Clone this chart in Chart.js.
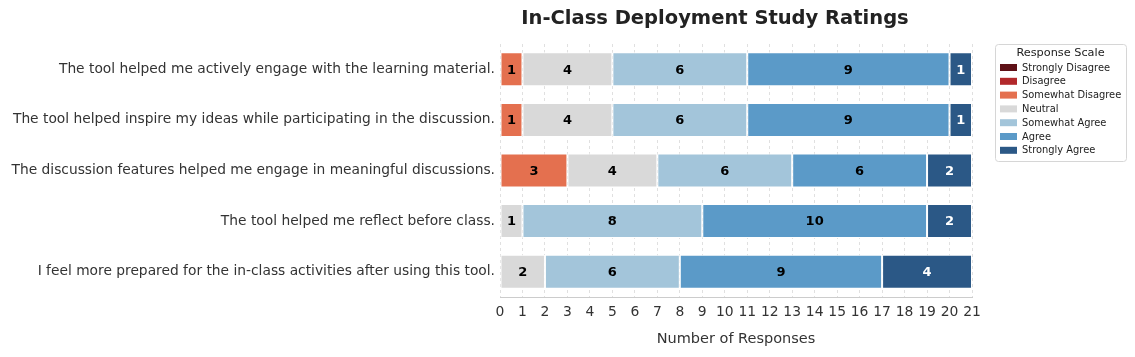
<!DOCTYPE html>
<html lang="en">
<head>
  <meta charset="UTF-8" />
  <title>In-Class Deployment Study Ratings</title>
  <script src="https://cdn.jsdelivr.net/npm/chart.js"></script>
  <style>
    body {
      margin: 0;
      background: #fff;
    }
    #wrap {
      width: 1135px;
      height: 357px;
    }
  </style>
</head>
<body>
  <div id="wrap">
    <canvas id="myChart" width="1135" height="357"></canvas>
  </div>

  <script>
    const categories = [
      'The tool helped me actively engage with the learning material.',
      'The tool helped inspire my ideas while participating in the discussion.',
      'The discussion features helped me engage in meaningful discussions.',
      'The tool helped me reflect before class.',
      'I feel more prepared for the in-class activities after using this tool.'
    ];
    const responseLevels = ['Strongly Disagree', 'Disagree', 'Somewhat Disagree', 'Neutral',
                            'Somewhat Agree', 'Agree', 'Strongly Agree'];

    const stronglyDisagree = [0, 0, 0, 0, 0];
    const disagree         = [0, 0, 0, 0, 0];
    const somewhatDisagree = [1, 1, 3, 0, 0];
    const neutral          = [4, 4, 4, 1, 2];
    const somewhatAgree    = [6, 6, 6, 8, 6];
    const agree            = [9, 9, 6, 10, 9];
    const stronglyAgree    = [1, 1, 2, 2, 4];

    const xMax = 21;

    const colors = ['#5e1117', '#b2292b', '#e4704f', '#d9d9d9', '#a3c5da', '#5b9ac8', '#2b5886'];
    const labelColors = ['#fff', '#fff', '#000', '#000', '#000', '#000', '#fff'];

    const series = [stronglyDisagree, disagree, somewhatDisagree, neutral, somewhatAgree, agree, stronglyAgree];

    Chart.defaults.font.family = "'DejaVu Sans', sans-serif";
    Chart.defaults.color = '#333';

    // counts written in the middle of each segment
    const segmentLabels = {
      id: 'segmentLabels',
      afterDatasetsDraw(chart) {
        const ctx = chart.ctx;
        ctx.save();
        ctx.font = "bold 13px 'DejaVu Sans'";
        ctx.textAlign = 'center';
        ctx.textBaseline = 'middle';
        chart.data.datasets.forEach((ds, i) => {
          chart.getDatasetMeta(i).data.forEach((bar, j) => {
            const v = ds.data[j];
            if (!v) return;
            const p = bar.getCenterPoint();
            ctx.fillStyle = labelColors[i];
            ctx.fillText(v, p.x, p.y + 1);
          });
        });
        ctx.restore();
      }
    };

    // title and boxed legend drawn by hand
    const extras = {
      id: 'extras',
      afterDraw(chart) {
        const ctx = chart.ctx;
        const area = chart.chartArea;
        ctx.save();
        ctx.fillStyle = '#222';
        ctx.font = "bold 19.5px 'DejaVu Sans'";
        ctx.textAlign = 'center';
        ctx.textBaseline = 'middle';
        ctx.fillText('In-Class Deployment Study Ratings', area.left + 215, 19);

        const lx = area.right + 23, ly = 44, lw = 131, lh = 117;
        ctx.beginPath();
        ctx.roundRect(lx + 0.5, ly + 0.5, lw, lh, 3);
        ctx.fillStyle = 'rgba(255,255,255,0.8)';
        ctx.fill();
        ctx.strokeStyle = '#d6d6d6';
        ctx.lineWidth = 1;
        ctx.stroke();

        ctx.fillStyle = '#222';
        ctx.font = "11.3px 'DejaVu Sans'";
        ctx.fillText('Response Scale', lx + lw / 2, ly + 9.5);

        ctx.font = "9.9px 'DejaVu Sans'";
        ctx.textAlign = 'left';
        chart.data.datasets.forEach((ds, i) => {
          const y = ly + 23.5 + i * 13.8;
          ctx.fillStyle = ds.backgroundColor;
          ctx.fillRect(lx + 5, y - 3.5, 17, 7);
          ctx.fillStyle = '#222';
          ctx.fillText(ds.label, lx + 27, y + 0.5);
        });
        ctx.restore();
      }
    };

    const ctx = document.getElementById('myChart').getContext('2d');
    const chart = new Chart(ctx, {
      type: 'bar',
      data: {
        labels: categories,
        datasets: responseLevels.map((name, i) => ({
          label: name,
          data: series[i],
          backgroundColor: colors[i],
          borderColor: '#fff',
          borderWidth: 1,
          borderSkipped: false,
          categoryPercentage: 1,
          barPercentage: 0.672
        }))
      },
      options: {
        indexAxis: 'y',
        animation: false,
        responsive: false,
        devicePixelRatio: 1,
        layout: { padding: { top: 44, right: 163, bottom: 0, left: 0 } },
        plugins: {
          legend: { display: false },
          title: { display: false },
          tooltip: { enabled: false }
        },
        scales: {
          x: {
            stacked: true,
            min: 0,
            max: xMax,
            afterFit: (scale) => { scale.height = 60; },
            ticks: {
              stepSize: 1,
              autoSkip: false,
              maxRotation: 0,
              minRotation: 0,
              font: { size: 13.9 },
              color: '#333',
              padding: 7
            },
            grid: {
              color: 'rgba(0,0,0,0.12)',
              drawTicks: false
            },
            border: { display: true, color: '#cccccc', dash: [3, 3] },
            title: {
              display: true,
              text: 'Number of Responses',
              font: { size: 14.5 },
              color: '#333',
              padding: { top: 8, bottom: 9 }
            }
          },
          y: {
            stacked: true,
            afterFit: (scale) => { scale.width = 500; },
            ticks: { font: { size: 13.8 }, color: '#333', padding: 5 },
            grid: { display: false, drawTicks: false },
            border: { display: false }
          }
        }
      },
      plugins: [segmentLabels, extras]
    });
  </script>
</body>
</html>
